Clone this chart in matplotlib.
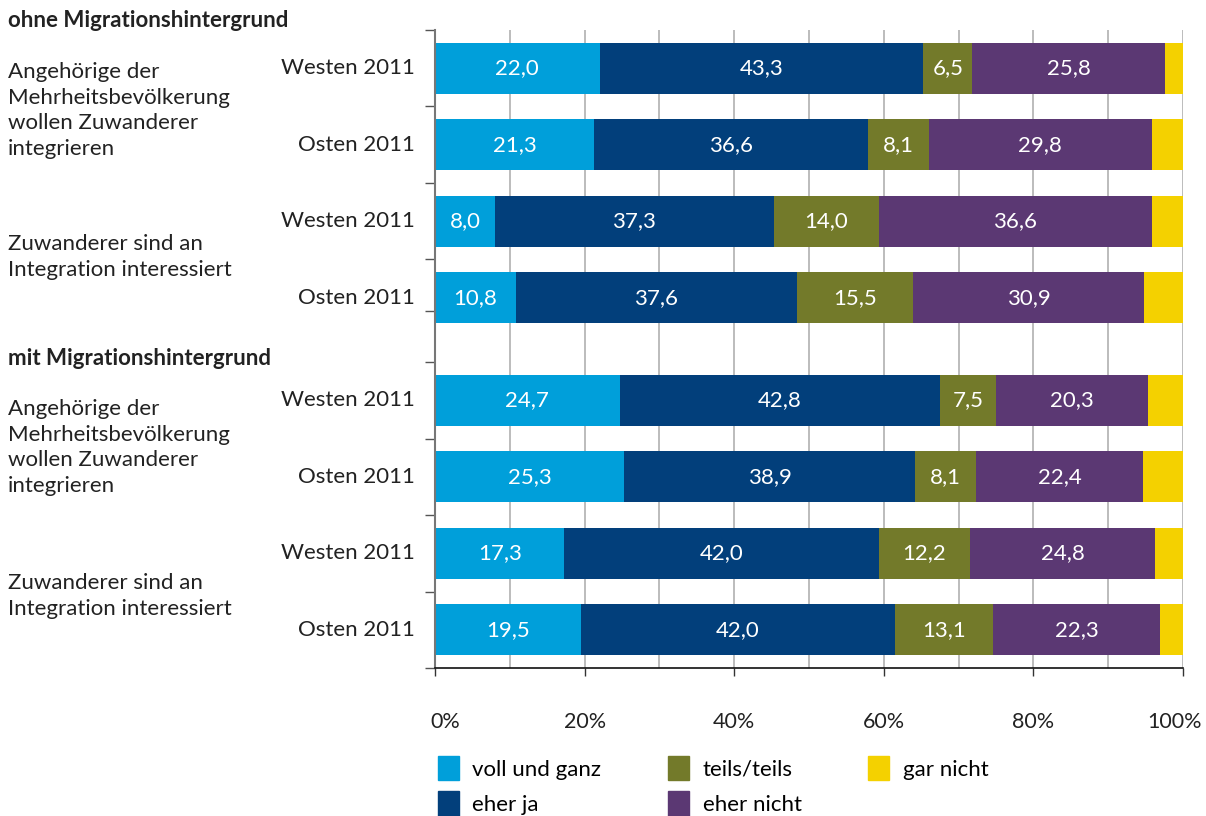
import matplotlib.pyplot as plt
import matplotlib.transforms as mtransforms
from matplotlib.patches import Patch
import numpy as np

plt.rcParams["font.family"] = ["Lato", "DejaVu Sans"]

# data (percent), top to bottom
row_labels = ["Westen 2011", "Osten 2011", "Westen 2011", "Osten 2011",
              "Westen 2011", "Osten 2011", "Westen 2011", "Osten 2011"]
voll_und_ganz = [22.0, 21.3, 8.0, 10.8, 24.7, 25.3, 17.3, 19.5]
eher_ja = [43.3, 36.6, 37.3, 37.6, 42.8, 38.9, 42.0, 42.0]
teils_teils = [6.5, 8.1, 14.0, 15.5, 7.5, 8.1, 12.2, 13.1]
eher_nicht = [25.8, 29.8, 36.6, 30.9, 20.3, 22.4, 24.8, 22.3]
gar_nicht = [2.4, 4.2, 4.1, 5.2, 4.7, 5.3, 3.7, 3.1]

series_names = ["voll und ganz", "eher ja", "teils/teils", "eher nicht", "gar nicht"]
series_colors = ["#009FDA", "#023F7B", "#737A2A", "#5B3873", "#F4D100"]
show_values = [True, True, True, True, False]

group_titles = ["ohne Migrationshintergrund", "mit Migrationshintergrund"]
question_texts = ["Angehörige der\nMehrheitsbevölkerung\nwollen Zuwanderer\nintegrieren",
                  "Zuwanderer sind an\nIntegration interessiert"]

# layout: rows with an extra gap between the two groups
gap = 0.34
ypos = np.array([i + 0.5 + (gap if i >= 4 else 0) for i in range(8)])
ybottom = 8 + gap

fig = plt.figure(figsize=(12.06, 8.16), dpi=100)
ax = fig.add_axes([435 / 1206, 1 - 668 / 816, 748 / 1206, 638 / 816])

values = [voll_und_ganz, eher_ja, teils_teils, eher_nicht, gar_nicht]
left = np.zeros(len(ypos))
for vals, name, col, show in zip(values, series_names, series_colors, show_values):
    vals = np.array(vals)
    ax.barh(ypos, vals, left=left, height=0.67, color=col, label=name, zorder=2)
    if show:
        for y, l, v in zip(ypos, left, vals):
            ax.text(l + v / 2, y, f"{v:.1f}".replace(".", ","), ha="center",
                    va="center", color="white", fontsize=16, zorder=3)
    left += vals

ax.set_xlim(0, 100)
ax.set_ylim(ybottom, 0)

# x axis
ax.set_xticks(np.arange(0, 101, 20))
ax.set_xticklabels([f"{v}%" for v in range(0, 101, 20)], fontsize=15.5, color="#222222")
ax.set_xticks(np.arange(0, 101, 10), minor=True)
ax.xaxis.grid(True, which="both", color="#B0B0B0", linewidth=1.2, zorder=0)
ax.tick_params(axis="x", which="major", length=6, width=1, color="#333333", pad=26)
ax.tick_params(axis="x", which="minor", length=0)
# nudge the outer labels inward like the original
xlabs = ax.get_xticklabels()
xlabs[0].set_transform(xlabs[0].get_transform()
                       + mtransforms.ScaledTranslation(0.1, 0, fig.dpi_scale_trans))
xlabs[-1].set_transform(xlabs[-1].get_transform()
                        + mtransforms.ScaledTranslation(-0.08, 0, fig.dpi_scale_trans))

# y axis: ticks at category boundaries, labels as text
yticks = [0, 1, 2, 3, 3 + (1 + gap) / 2, 4 + gap, 5 + gap, 6 + gap, 7 + gap, 8 + gap]
ax.set_yticks(yticks)
ax.set_yticklabels([])
ax.tick_params(axis="y", length=7, width=1, color="#555555")
for y, lab in zip(ypos, row_labels):
    ax.text(-2.7, y, lab, ha="right", va="center", fontsize=16, color="#222222")

for side in ["top", "right"]:
    ax.spines[side].set_visible(False)
ax.spines["left"].set_color("#777777")
ax.spines["left"].set_linewidth(1.5)
ax.spines["bottom"].set_color("#111111")
ax.spines["bottom"].set_linewidth(1.2)

# group titles and question texts on the left
trans = mtransforms.blended_transform_factory(fig.transFigure, ax.transData)
group_y = [-0.13, 4.29]
question_y = [[1.05, 2.97], [5.46, 7.4]]
for g in range(2):
    fig.text(8 / 1206, group_y[g], group_titles[g], transform=trans, fontsize=16,
             fontweight="bold", va="center", color="#222222")
    for q in range(2):
        fig.text(8 / 1206, question_y[g][q], question_texts[q], transform=trans,
                 fontsize=16, va="center", color="#222222", linespacing=1.35)

handles = [Patch(color=c, label=n) for n, c in zip(series_names, series_colors)]
fig.legend(handles=handles, ncols=3, loc="upper left",
           bbox_to_anchor=(418 / 1206, 1 - 736 / 816), frameon=False, fontsize=16,
           handlelength=0.95, handleheight=1.3, handletextpad=0.6,
           columnspacing=3.0, labelspacing=0.5)

fig.savefig("out.png", dpi=100)
